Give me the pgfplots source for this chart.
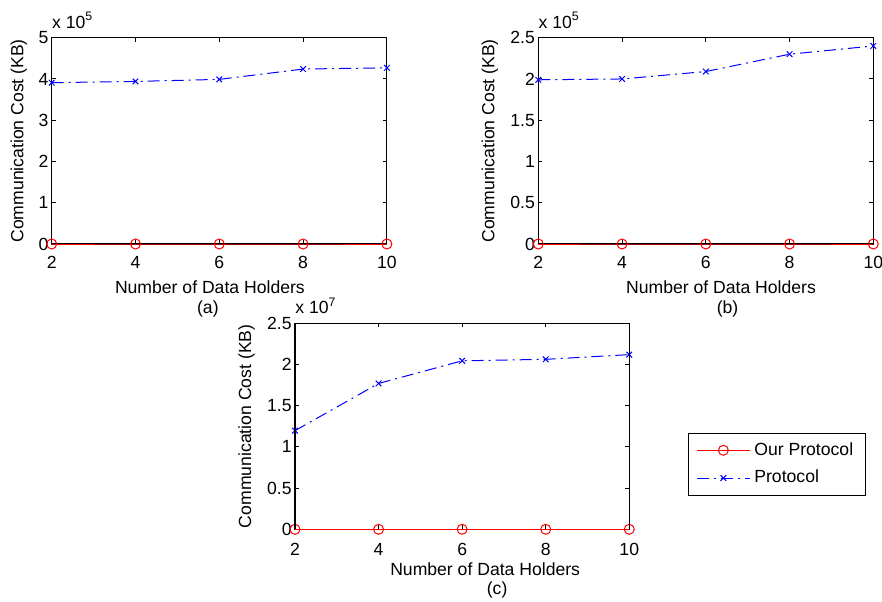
\documentclass[border=0pt]{standalone}
\usepackage{fontspec}
\setmainfont{Liberation Sans}
\usepackage{pgfplots}
\pgfplotsset{compat=1.18}

\newcommand{\fs}{\fontsize{8.8}{10}\selectfont}

\pgfplotsset{
  holders/.style={
    scale only axis,
    xmin=2, xmax=10, xtick={2,4,6,8,10}, ymin=0,
    font=\fs,
    /pgf/number format/assume math mode=true,
    axis line style={line width=0.6pt, black},
    major tick length=2pt,
    tick style={black, line width=0.5pt},
    clip=false,
    yticklabel style={inner sep=1.5pt},
    xlabel={Number of Data Holders},
    ylabel={Communication Cost (KB)},
    every y tick scale label/.style={at={(axis description cs:0,1)}, anchor=south west, inner sep=0pt, yshift=4.5pt},
  },
  ours/.style={red, line width=0.5pt, mark=o, mark size=2.5pt, mark options={solid}},
  theirs/.style={blue, line width=0.5pt, mark=x, mark size=2pt, mark options={solid},
    dash pattern=on 6pt off 2.5pt on 1pt off 2.5pt},
}

\begin{document}
\begin{tikzpicture}
\useasboundingbox (0,0) rectangle (441pt,300.5pt);

% (a)
\begin{axis}[holders,
  at={(25.85pt,178.5pt)}, anchor=south west, width=167.6pt, height=103.15pt,
  ymax=500000, ytick={0,100000,200000,300000,400000,500000},
  scaled y ticks=base 10:-5, ytick scale label code/.code={x 10\textsuperscript{5}},
  xticklabel style={yshift=-2.6pt},
  xlabel style={at={(axis description cs:0.5,0)}, anchor=base, xshift=-4.7pt, yshift=-24.5pt},
  ylabel style={at={(axis description cs:-0.098,0.5)}, anchor=center},
]
\addplot[ours] coordinates {(2,0) (4,0) (6,0) (8,0) (10,0)};
\addplot[theirs] coordinates {(2,391000) (4,394000) (6,399000) (8,424000) (10,427000)};
\node[font=\fs, anchor=base] at ([xshift=-5.7pt, yshift=-34.75pt]axis description cs:0.5,0) {(a)};
\end{axis}

% (b)
\begin{axis}[holders,
  at={(269.15pt,178.5pt)}, anchor=south west, width=167.5pt, height=103.15pt,
  ymax=250000, ytick={0,50000,100000,150000,200000,250000},
  scaled y ticks=base 10:-5, ytick scale label code/.code={x 10\textsuperscript{5}},
  xticklabel style={yshift=-2.6pt},
  xlabel style={at={(axis description cs:0.5,0)}, anchor=base, xshift=7.6pt, yshift=-24.5pt},
  ylabel style={at={(axis description cs:-0.1445,0.5)}, anchor=center},
]
\addplot[ours] coordinates {(2,0) (4,0) (6,0) (8,0) (10,0)};
\addplot[theirs] coordinates {(2,199000) (4,200000) (6,209000) (8,230000) (10,240000)};
\node[font=\fs, anchor=base] at ([xshift=10.85pt, yshift=-34.75pt]axis description cs:0.5,0) {(b)};
\end{axis}

% (c)
\begin{axis}[holders, name=axc,
  at={(147.5pt,35.85pt)}, anchor=south west, width=167.15pt, height=103pt,
  ymax=25000000, ytick={0,5000000,10000000,15000000,20000000,25000000},
  scaled y ticks=base 10:-7, ytick scale label code/.code={x 10\textsuperscript{7}},
  xticklabel style={yshift=-3.4pt},
  xlabel style={at={(axis description cs:0.5,0)}, anchor=base, xshift=11.5pt, yshift=-22.85pt},
  ylabel style={at={(axis description cs:-0.1448,0.5)}, anchor=center},
  legend style={at={(1.1756,0.4675)}, anchor=north west, draw=black,
    font=\fs, inner xsep=4pt, inner ysep=2.5pt, row sep=2pt},
  legend cell align=left,
  legend image code/.code={\draw[mark repeat=2, mark phase=2, #1] plot coordinates {(0pt,0pt) (13.25pt,0pt) (26.5pt,0pt)};},
]
\addplot[ours] coordinates {(2,0) (4,0) (6,0) (8,0) (10,0)};
\addlegendentry{Our Protocol}
\addplot[theirs] coordinates {(2,11970000) (4,17700000) (6,20450000) (8,20630000) (10,21200000)};
\addlegendentry{Protocol}
\node[font=\fs, anchor=base] at ([xshift=17.5pt, yshift=-32.35pt]axis description cs:0.5,0) {(c)};
\end{axis}
% frame of (c), drawn once more over the box
\draw[black, line width=0.7pt] (axc.south west) -- (axc.north west) -- (axc.north east) -- (axc.south east);
\end{tikzpicture}
\end{document}
